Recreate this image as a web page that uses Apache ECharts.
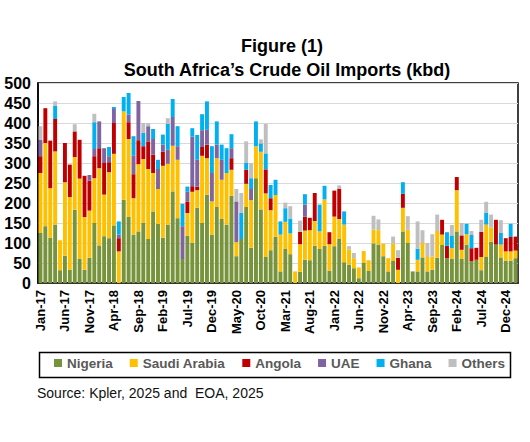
<!DOCTYPE html>
<html><head><meta charset="utf-8">
<script src="https://cdn.jsdelivr.net/npm/echarts@6/dist/echarts.min.js"></script>
<style>html,body{margin:0;padding:0;background:#fff}#c{width:530px;height:442px}</style>
</head><body><div id="c"></div>
<script>
const months = [
 "Jan-17","Feb-17","Mar-17","Apr-17","May-17","Jun-17","Jul-17","Aug-17","Sep-17","Oct-17","Nov-17","Dec-17",
 "Jan-18","Feb-18","Mar-18","Apr-18","May-18","Jun-18","Jul-18","Aug-18","Sep-18","Oct-18","Nov-18","Dec-18",
 "Jan-19","Feb-19","Mar-19","Apr-19","May-19","Jun-19","Jul-19","Aug-19","Sep-19","Oct-19","Nov-19","Dec-19",
 "Jan-20","Feb-20","Mar-20","Apr-20","May-20","Jun-20","Jul-20","Aug-20","Sep-20","Oct-20","Nov-20","Dec-20",
 "Jan-21","Feb-21","Mar-21","Apr-21","May-21","Jun-21","Jul-21","Aug-21","Sep-21","Oct-21","Nov-21","Dec-21",
 "Jan-22","Feb-22","Mar-22","Apr-22","May-22","Jun-22","Jul-22","Aug-22","Sep-22","Oct-22","Nov-22","Dec-22",
 "Jan-23","Feb-23","Mar-23","Apr-23","May-23","Jun-23","Jul-23","Aug-23","Sep-23","Oct-23","Nov-23","Dec-23",
 "Jan-24","Feb-24","Mar-24","Apr-24","May-24","Jun-24","Jul-24","Aug-24","Sep-24","Oct-24","Nov-24","Dec-24",
 "Jan-25","Feb-25"];

const nigeria = [125,142,113,146,32,68,33,183,60,33,63,150,94,117,112,144,0,208,165,121,129,150,110,179,148,113,146,229,162,60,118,101,188,150,221,121,190,160,146,218,67,110,190,88,262,184,65,82,116,29,85,72,0,28,58,57,93,85,93,31,92,110,52,46,37,12,50,30,99,96,67,29,55,0,129,100,29,29,64,29,33,63,95,62,61,129,60,96,54,58,32,65,103,96,64,56,56,62];
const saudi   = [150,208,124,183,75,184,182,132,201,132,118,112,193,104,165,179,79,221,195,91,168,160,175,96,87,180,152,114,146,0,57,127,44,168,91,83,122,98,129,65,35,0,58,119,80,144,159,100,104,92,68,52,29,69,73,75,62,44,116,66,74,50,94,38,25,27,30,27,35,36,31,33,44,33,59,33,0,29,36,36,33,67,26,0,26,103,23,26,0,0,33,81,36,0,32,23,23,19];
const angola  = [42,87,119,81,0,98,81,64,97,103,75,55,50,79,25,77,33,0,42,60,60,32,69,46,0,35,0,0,0,0,28,14,9,22,34,0,0,0,0,29,0,0,35,0,0,0,60,30,0,0,0,0,0,31,35,31,70,0,0,30,65,76,0,0,0,0,0,0,0,0,0,0,0,30,35,0,0,0,0,0,0,0,37,31,0,33,36,0,33,30,63,0,0,62,0,33,36,35];
const uae     = [41,0,0,0,0,0,0,0,0,0,14,18,67,37,15,35,9,0,19,46,98,0,38,39,50,18,35,72,34,82,25,124,67,42,37,71,34,50,0,25,102,0,0,28,0,0,0,0,0,0,0,0,0,0,30,0,0,0,0,0,0,0,0,0,0,0,0,0,0,0,0,0,0,0,0,0,0,0,0,0,0,0,0,0,0,0,0,0,0,0,0,0,0,0,0,0,0,0];
const ghana   = [0,0,0,33,0,0,0,0,0,0,0,67,0,0,23,5,33,36,54,49,0,33,0,25,23,25,65,45,50,56,13,21,62,40,71,67,58,38,62,35,0,65,17,27,62,21,40,33,38,33,34,37,0,0,26,0,0,67,34,0,0,0,33,0,0,0,0,0,0,0,0,0,0,0,29,0,0,28,0,0,0,0,0,34,32,0,0,26,33,0,0,29,0,0,29,0,33,0];
const others  = [34,0,0,11,0,0,0,18,0,0,0,21,0,0,0,0,0,0,0,0,0,25,8,0,0,0,14,0,0,0,0,0,0,0,0,0,0,0,0,0,31,50,54,38,0,10,74,0,0,0,14,31,0,28,0,0,0,0,0,0,0,8,0,8,13,0,0,0,34,27,0,0,17,19,0,34,0,68,32,35,56,41,0,0,26,0,31,0,10,0,30,28,32,0,32,0,0,0];

const seriesNames = ["Nigeria","Saudi Arabia","Angola","UAE","Ghana","Others"];
const seriesColors = ["#77933C","#FFC000","#C00000","#8064A2","#00B0F0","#BFBFBF"];
const seriesData = [nigeria, saudi, angola, uae, ghana, others];

const FONT = '"Liberation Sans", Arial, sans-serif';
const chart = echarts.init(document.getElementById('c'), null, {renderer: 'svg'});

const series = seriesNames.map((n, i) => ({
  name: n, type: 'bar', stack: 'total', data: seriesData[i],
  itemStyle: {color: seriesColors[i]}, barCategoryGap: '20%',
  emphasis: {disabled: true}
}));

chart.setOption({
  animation: false,
  textStyle: {fontFamily: FONT},
  grid: {left: 38, right: 12, top: 83, bottom: 159, show: true, borderColor: '#000', borderWidth: 1.5, backgroundColor: 'transparent'},
  xAxis: {
    type: 'category', data: months,
    axisLine: {lineStyle: {color: '#000', width: 1.5}},
    axisTick: {interval: 4, length: 5, lineStyle: {color: '#000'}},
    axisLabel: {interval: 4, rotate: 90, fontSize: 13, fontWeight: 'bold', color: '#000', margin: 7, fontFamily: FONT}
  },
  yAxis: {
    type: 'value', min: 0, max: 500, interval: 50,
    axisLine: {show: true, lineStyle: {color: '#000', width: 1.5}},
    axisTick: {show: false},
    axisLabel: {fontSize: 16, fontWeight: 'bold', color: '#000', margin: 7, fontFamily: FONT},
    splitLine: {lineStyle: {color: '#D9D9D9', width: 1}}
  },
  legend: {
    data: seriesNames, left: 54, top: 356, padding: 0,
    itemWidth: 8, itemHeight: 8, itemGap: 17, icon: 'rect',
    textStyle: {fontSize: 13.5, fontWeight: 'bold', color: '#595959', fontFamily: FONT}
  },
  series: series,
  graphic: [
    {type: 'rect', left: 37, top: 350, shape: {width: 471, height: 25}, style: {fill: 'none', stroke: '#000', lineWidth: 1.5}, silent: true},
    {type: 'text', x: 282, y: 46, style: {text: 'Figure (1)', font: 'bold 18px ' + FONT, fill: '#000', align: 'center', verticalAlign: 'middle', textAlign: 'center', textVerticalAlign: 'middle'}},
    {type: 'text', x: 287, y: 70, style: {text: 'South Africa\u2019s Crude Oil Imports (kbd)', font: 'bold 18px ' + FONT, fill: '#000', align: 'center', verticalAlign: 'middle', textAlign: 'center', textVerticalAlign: 'middle'}},
    {type: 'text', x: 37, y: 393, style: {text: 'Source: Kpler, 2025 and  EOA, 2025', font: '14px ' + FONT, fill: '#111', align: 'left', verticalAlign: 'middle', textAlign: 'left', textVerticalAlign: 'middle'}}
  ]
});
</script>
</body></html>
